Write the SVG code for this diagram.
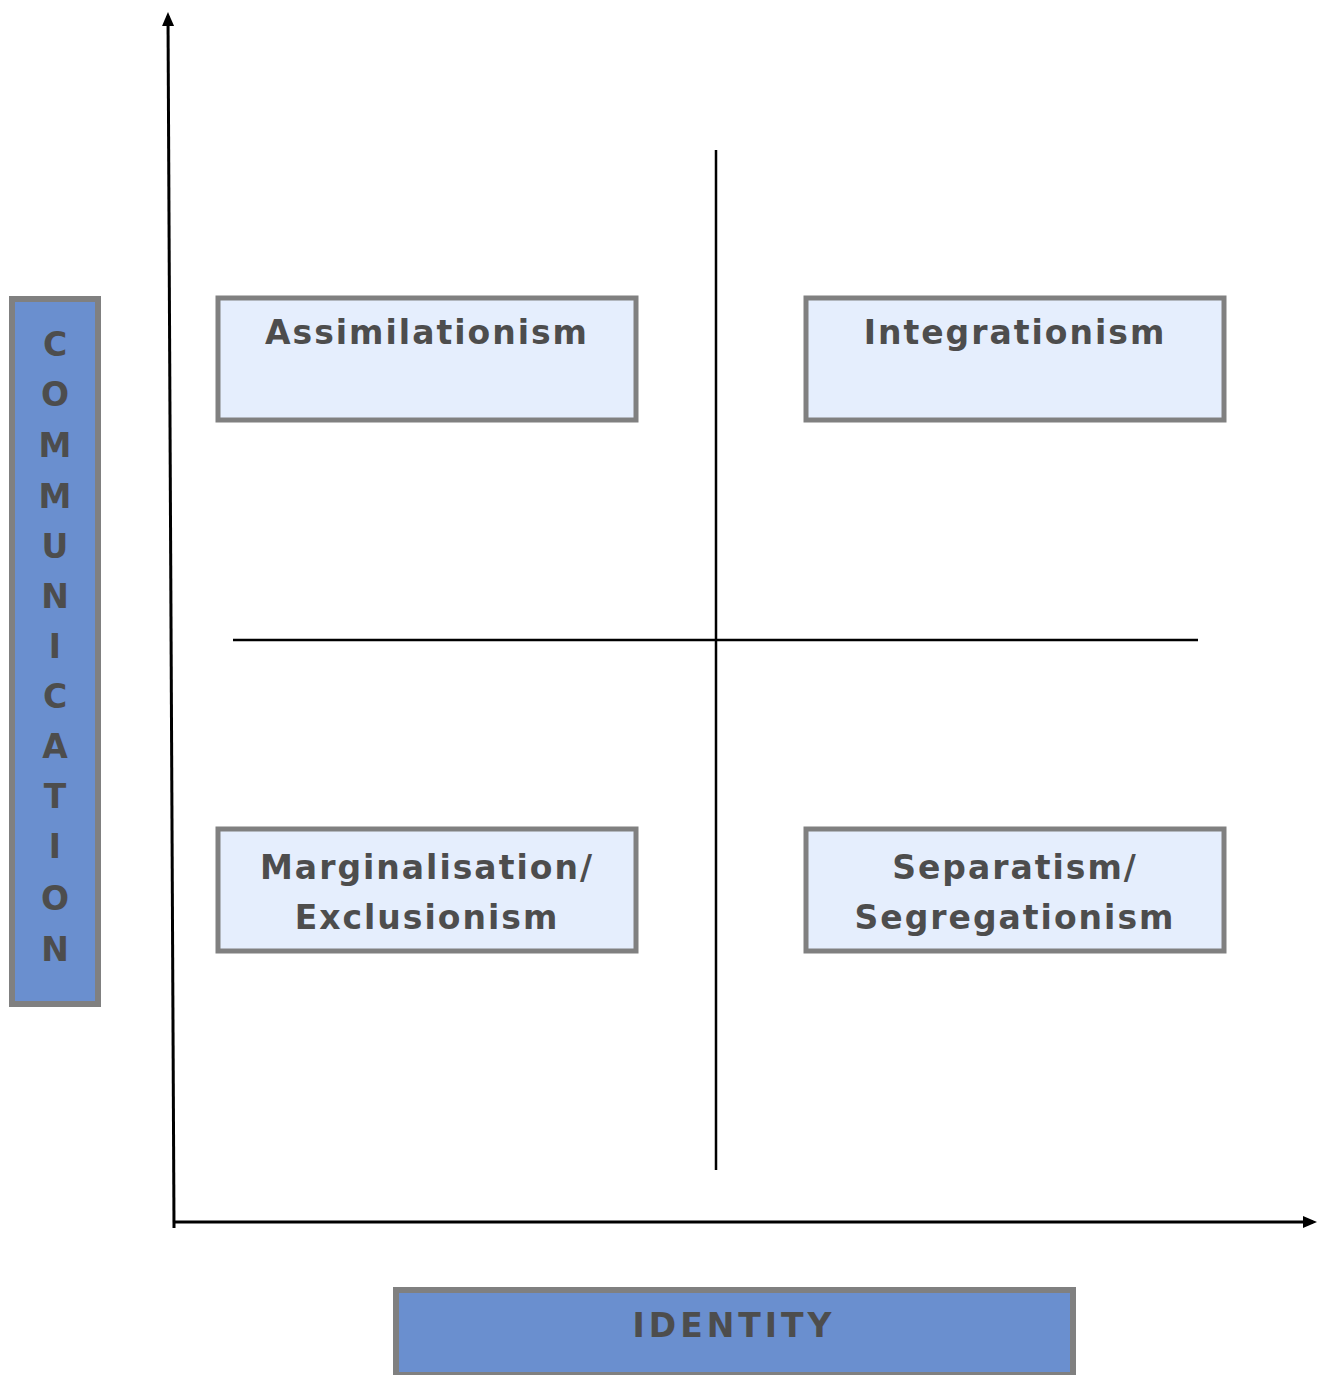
<svg xmlns="http://www.w3.org/2000/svg" width="1324" height="1375" viewBox="0 0 1324 1375">
<style>
.box{fill:#e5eefd;stroke:#808080;stroke-width:5}
.axisbox{fill:#6a8fcf;stroke:#808080;stroke-width:6}
.t{font-family:"DejaVu Sans","Liberation Sans",sans-serif;font-weight:bold;font-size:33px;fill:#4d4d4d;text-anchor:middle;letter-spacing:2px}
.ax{stroke:#000;stroke-width:3;fill:none}
.div{stroke:#000;stroke-width:2.5;fill:none}
</style>
<defs>
<marker id="ah2" markerWidth="14" markerHeight="14" refX="10" refY="7" orient="auto" markerUnits="userSpaceOnUse" viewBox="0 0 14 14">
<path d="M0,1 L14,7 L0,13 z" fill="#000"/>
</marker>
</defs>
<g id="connectors">
<line class="ax" x1="174" y1="1228" x2="168" y2="16" marker-end="url(#ah2)"/>
<line class="ax" x1="174" y1="1222" x2="1313" y2="1222" marker-end="url(#ah2)"/>
<line class="div" x1="716" y1="150" x2="716" y2="1170"/>
<line class="div" x1="233" y1="640" x2="1198" y2="640"/>
</g>
<g id="communication">
<rect class="axisbox" x="12" y="299" width="86" height="705"/>
<text class="t" x="56" y="356">C</text>
<text class="t" x="56" y="406">O</text>
<text class="t" x="56" y="457">M</text>
<text class="t" x="56" y="508">M</text>
<text class="t" x="56" y="558">U</text>
<text class="t" x="56" y="608">N</text>
<text class="t" x="56" y="658">I</text>
<text class="t" x="56" y="708">C</text>
<text class="t" x="56" y="758">A</text>
<text class="t" x="56" y="808">T</text>
<text class="t" x="56" y="858">I</text>
<text class="t" x="56" y="910">O</text>
<text class="t" x="56" y="961">N</text>
</g>
<g id="identity">
<rect class="axisbox" x="396" y="1290" width="677" height="85"/>
<text class="t" x="734" y="1337" style="letter-spacing:4px">IDENTITY</text>
</g>
<g id="assimilationism">
<rect class="box" x="218" y="298" width="418" height="122"/>
<text class="t" x="427" y="344">Assimilationism</text>
</g>
<g id="integrationism">
<rect class="box" x="806" y="298" width="418" height="122"/>
<text class="t" x="1015" y="344">Integrationism</text>
</g>
<g id="marginalisation">
<rect class="box" x="218" y="829" width="418" height="122"/>
<text class="t" x="427" y="879">Marginalisation/</text>
<text class="t" x="427" y="929">Exclusionism</text>
</g>
<g id="separatism">
<rect class="box" x="806" y="829" width="418" height="122"/>
<text class="t" x="1015" y="879">Separatism/</text>
<text class="t" x="1015" y="929">Segregationism</text>
</g>
</svg>
